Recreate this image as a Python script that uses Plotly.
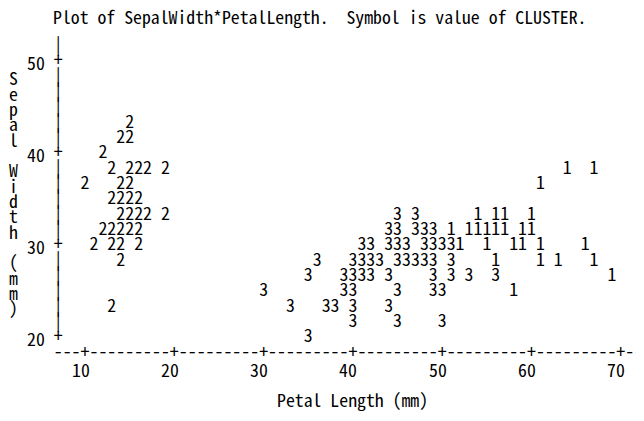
import plotly.graph_objects as go

# ── Data (mm) ────────────────────────────────────────────────────────────────
# one printer column = 1 mm petal length, one printer line = 10/6 mm sepal width

c1_petal = [64, 67,
            61,
            54, 56, 57, 60,
            51, 53, 54, 55, 56, 57, 59, 60,
            52, 55, 58, 59, 61, 66,
            56, 61, 63, 67,
            69,
            58]
c1_sepal = [38.33, 38.33,
            36.67,
            33.33, 33.33, 33.33, 33.33,
            31.67, 31.67, 31.67, 31.67, 31.67, 31.67, 31.67, 31.67,
            30, 30, 30, 30, 30, 30,
            28.33, 28.33, 28.33, 28.33,
            26.67,
            25]

c2_petal = [15,
            14, 15,
            12,
            13, 15, 16, 17, 19,
            10, 14, 15,
            13, 14, 15, 16,
            14, 15, 16, 17, 19,
            12, 13, 14, 15, 16,
            11, 13, 14, 16,
            14,
            13]
c2_sepal = [43.33,
            41.67, 41.67,
            40,
            38.33, 38.33, 38.33, 38.33, 38.33,
            36.67, 36.67, 36.67,
            35, 35, 35, 35,
            33.33, 33.33, 33.33, 33.33, 33.33,
            31.67, 31.67, 31.67, 31.67, 31.67,
            30, 30, 30, 30,
            28.33,
            23.33]

c3_petal = [45, 47,
            44, 45, 47, 48, 49,
            41, 42, 44, 45, 46, 48, 49, 50, 51,
            36, 40, 41, 42, 43, 45, 46, 47, 48, 49, 51,
            35, 39, 40, 41, 42, 44, 49, 51, 53, 56,
            30, 39, 40, 45, 49, 50,
            33, 37, 38, 40, 44,
            40, 45, 50,
            35]
c3_sepal = [33.33, 33.33,
            31.67, 31.67, 31.67, 31.67, 31.67,
            30, 30, 30, 30, 30, 30, 30, 30, 30,
            28.33, 28.33, 28.33, 28.33, 28.33, 28.33, 28.33, 28.33, 28.33, 28.33, 28.33,
            26.67, 26.67, 26.67, 26.67, 26.67, 26.67, 26.67, 26.67, 26.67, 26.67,
            25, 25, 25, 25, 25, 25,
            23.33, 23.33, 23.33, 23.33, 23.33,
            21.67, 21.67, 21.67,
            20]

x_ticks = [10, 20, 30, 40, 50, 60, 70]
y_ticks = [20, 30, 40, 50]

TITLE = "Plot of SepalWidth*PetalLength.  Symbol is value of CLUSTER."
X_LABEL = "Petal Length (mm)"
Y_LABEL = "Sepal Width (mm)"

# ── Printer grid geometry ─────────────────────────────────────────────────────
W, H = 644, 421
PAGE_PAD = 8           # default body margin of the html page
CHAR_W = 8.93          # px per column
LINE_H = 15.33         # px per line
LINE = 10 / 6          # mm per line
FONT = dict(family="Noto Sans Mono CJK JP, DejaVu Sans Mono, monospace",
            size=17.8, color="black")

x0 = 10 - (85 - PAGE_PAD) / CHAR_W
x1 = x0 + W / CHAR_W
y1 = 50 + (62 - PAGE_PAD) / LINE_H * LINE
y0 = y1 - H / LINE_H * LINE

fig = go.Figure()

for petal, sepal, sym in [(c1_petal, c1_sepal, "1"),
                          (c2_petal, c2_sepal, "2"),
                          (c3_petal, c3_sepal, "3")]:
    fig.add_trace(go.Scatter(
        x=petal, y=sepal, mode="text",
        text=[sym] * len(petal),
        textposition="middle center",
        textfont=FONT,
        hovertemplate="Petal %{x}<br>Sepal %{y:.1f}<extra></extra>",
    ))

# x axis drawn as printer characters
axis_row = y_ticks[0] - LINE
cols = list(range(7, 73))
fig.add_trace(go.Scatter(
    x=cols, y=[axis_row] * len(cols), mode="text",
    text=["+" if c in x_ticks else "-" for c in cols],
    textfont=FONT, hoverinfo="skip",
))

# y axis
n_lines = int(round((y_ticks[-1] - y_ticks[0]) / LINE)) + 2
rows = [y_ticks[0] + k * LINE for k in range(n_lines)]
fig.add_trace(go.Scatter(
    x=[7] * len(rows), y=rows, mode="text",
    text=["+" if any(abs(r - t) < 0.01 for t in y_ticks) else "|" for r in rows],
    textfont=FONT, hoverinfo="skip",
))

ann = []
for t in x_ticks:
    ann.append(dict(x=t - 0.5, y=axis_row - LINE, text=str(t), showarrow=False,
                    xanchor="center", yanchor="middle", font=FONT))
for t in y_ticks:
    ann.append(dict(x=4.5, y=t, text=str(t), showarrow=False,
                    xanchor="center", yanchor="middle", font=FONT))
for i, ch in enumerate(Y_LABEL):
    if ch != " ":
        ann.append(dict(x=2, y=50 - (i + 1) * LINE, text=ch, showarrow=False,
                        xanchor="center", yanchor="middle", font=FONT))
ann.append(dict(x=6.2, y=50 + 3 * LINE, text=TITLE, showarrow=False,
                xanchor="left", yanchor="middle", font=FONT))
ann.append(dict(x=31.3, y=axis_row - 3 * LINE, text=X_LABEL, showarrow=False,
                xanchor="left", yanchor="middle", font=FONT))

fig.update_layout(
    width=W, height=H,
    margin=dict(l=0, r=0, t=0, b=0),
    paper_bgcolor="white", plot_bgcolor="white",
    showlegend=False,
    annotations=ann,
    xaxis=dict(range=[x0, x1], visible=False, fixedrange=True),
    yaxis=dict(range=[y0, y1], visible=False, fixedrange=True),
)

fig.write_html("out.html")
